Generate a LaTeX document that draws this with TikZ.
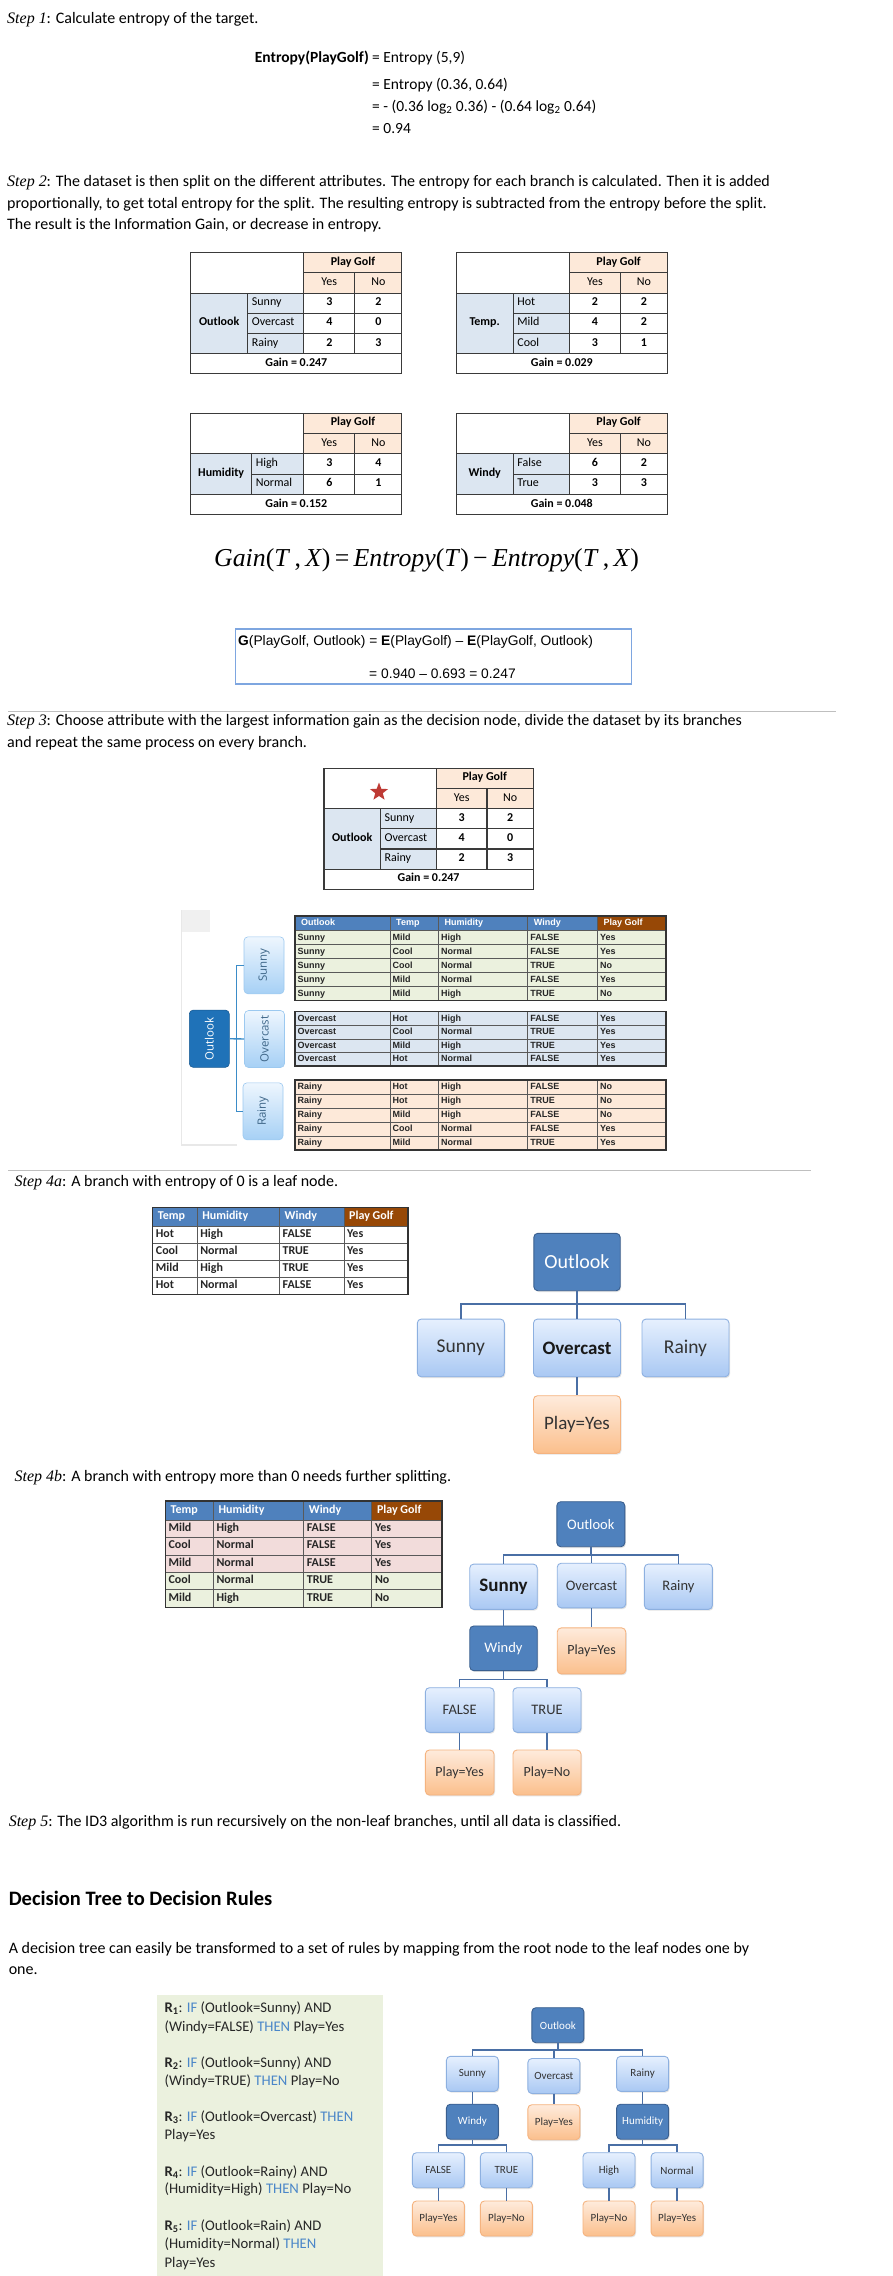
\documentclass[tikz,border=0pt]{standalone}
\usepackage{fontspec}
\setmainfont{Carlito}
\newfontfamily\serifit{Liberation Serif}
\newfontfamily\arialf{Liberation Sans}
\newfontfamily\opensans{Open Sans}
\usetikzlibrary{shapes.geometric,shadows}
\newcommand\fsz[1]{\fontsize{#1}{#1}\selectfont}
\definecolor{hdrpeach}{HTML}{FDE9D9}
\definecolor{lblblue}{HTML}{DCE6F1}
\definecolor{tbl}{HTML}{3A3A3A}
\definecolor{hdrblue}{HTML}{4F81BD}
\definecolor{hdrbrown}{HTML}{974806}
\definecolor{rowgreen}{HTML}{EBF1DE}
\definecolor{rowblue}{HTML}{DCE6F1}
\definecolor{rowpeach}{HTML}{FDE9D9}
\definecolor{rowpink}{HTML}{F2DCDB}
\definecolor{kwblue}{HTML}{4A86C8}
\definecolor{boxblue}{HTML}{7EA6E0}
\definecolor{nodedark}{HTML}{4F81BD}
\definecolor{nodedarkb}{HTML}{3A5F8F}
\definecolor{lightA}{HTML}{E6F0FE}
\definecolor{lightB}{HTML}{A9C8F3}
\definecolor{lightborder}{HTML}{8DB0E0}
\definecolor{orA}{HTML}{FEEBDC}
\definecolor{orB}{HTML}{FBBF8C}
\definecolor{orborder}{HTML}{F5B37F}
\definecolor{saDark}{HTML}{1F72B8}
\definecolor{saLightA}{HTML}{EEF6FE}
\definecolor{saLightB}{HTML}{A6D0F5}
\definecolor{saBorder}{HTML}{9CC9F0}
\definecolor{saLine}{HTML}{3B8CC8}
\definecolor{saText}{HTML}{3E6688}
\definecolor{rulegray}{HTML}{BFBFBF}
\definecolor{rulesbg}{HTML}{EBF1DE}
\definecolor{connblue}{HTML}{4A6FA5}
\definecolor{starred}{HTML}{BE3A34}

\tikzset{
  txt/.style={anchor=base west, inner sep=0pt, font=\fsz{16}},
  tline/.style={draw=tbl, line width=1.1pt},
  gtreg/.style={inner sep=0pt, font=\fsz{12}, text height=.68em, text depth=.18em},
  gtbold/.style={inner sep=0pt, font=\fsz{12}\bfseries, text height=.68em, text depth=.18em},
  dtxt/.style={anchor=west, inner sep=0pt, font=\arialf\bfseries\fsz{9}, text=black!85, text height=.7em, text depth=.2em},
  dhdr/.style={anchor=west, inner sep=0pt, font=\arialf\bfseries\fsz{9}, text=white, text height=.7em, text depth=.2em},
  dline/.style={draw=black!65, line width=0.8pt},
  dout/.style={draw=black!80, line width=1.5pt},
  stxt/.style={anchor=west, inner sep=0pt, font=\fsz{12}\bfseries, text=black!85, text height=.68em, text depth=.18em},
  shdr/.style={anchor=west, inner sep=0pt, font=\fsz{12}\bfseries, text=white, text height=.68em, text depth=.18em},
  tn/.style={rectangle, rounded corners=4pt, line width=0.9pt, inner sep=0pt, align=center,
    drop shadow={opacity=0.22, shadow xshift=1pt, shadow yshift=-1.3pt}},
  tdark/.style={tn, fill=nodedark, draw=nodedarkb, text=white},
  tlight/.style={tn, top color=lightA, bottom color=lightB, draw=lightborder, text=black!80},
  tleaf/.style={tn, top color=orA, bottom color=orB, draw=orborder, text=black!80},
  tconn/.style={draw=connblue, line width=1.5pt},
  sanode/.style={rectangle, rounded corners=4pt, inner sep=0pt, minimum width=40pt, minimum height=57pt},
  salight/.style={sanode, top color=saLightA, bottom color=saLightB, draw=saBorder, line width=0.6pt, text=saText},
  saconn/.style={draw=saLine, line width=1.4pt},
}

% Step-2 style gain table
\newcommand\GainTab[4]{%
  \pgfmathsetmacro\yA{\Ya+\Rh}%
  \pgfmathsetmacro\yB{\Ya+2*\Rh}%
  \pgfmathsetmacro\yC{\Ya+(2+#4)*\Rh}%
  \pgfmathsetmacro\yD{\Ya+(3+#4)*\Rh}%
  \fill[hdrpeach] (\Xc,\Ya) rectangle (\Xe,\yB);
  \fill[lblblue] (\Xa,\yB) rectangle (\Xc,\yC);
  \node[gtbold] at ({(\Xc+\Xe)/2},{(\Ya+\yA)/2}) {Play Golf};
  \node[gtreg] at ({(\Xc+\Xd)/2},{(\yA+\yB)/2}) {Yes};
  \node[gtreg] at ({(\Xd+\Xe)/2},{(\yA+\yB)/2}) {No};
  \node[gtbold] at ({(\Xa+\Xb)/2},{(\yB+\yC)/2}) {#1};
  \foreach \lab/\vy/\vn [count=\i] in {#2} {%
    \pgfmathsetmacro\ry{\yB+(\i-0.5)*\Rh}%
    \pgfmathsetmacro\rl{\yB+\i*\Rh}%
    \node[gtreg,anchor=west] at ({\Xb+4},\ry) {\lab};
    \node[gtbold] at ({(\Xc+\Xd)/2},\ry) {\vy};
    \node[gtbold] at ({(\Xd+\Xe)/2},\ry) {\vn};
    \draw[tline] (\Xb,\rl) -- (\Xe,\rl);
  }
  \node[gtbold] at ({(\Xa+\Xe)/2},{(\yC+\yD)/2}) {#3};
  \draw[tline] (\Xa,\Ya) rectangle (\Xe,\yD);
  \draw[tline] (\Xc,\yA) -- (\Xe,\yA);
  \draw[tline] (\Xa,\yB) -- (\Xe,\yB);
  \draw[tline] (\Xa,\yC) -- (\Xe,\yC);
  \draw[tline] (\Xc,\Ya) -- (\Xc,\yC);
  \draw[tline] (\Xd,\yA) -- (\Xd,\yC);
  \draw[tline] (\Xb,\yB) -- (\Xb,\yC);
}
% dataset row (5 columns)
\newcommand\DRow[8]{%
  \fill[#3] (\Ca,#1) rectangle (\Cf,#2);
  \node[dtxt] at ({\Ca+2.5},{(#1+#2)/2}) {#4};
  \node[dtxt] at ({\Cb+2.5},{(#1+#2)/2}) {#5};
  \node[dtxt] at ({\Cc+2.5},{(#1+#2)/2}) {#6};
  \node[dtxt] at ({\Cd+2.5},{(#1+#2)/2}) {#7};
  \node[dtxt] at ({\Ce+2.5},{(#1+#2)/2}) {#8};
}
% small table row (4 columns)
\newcommand\SRow[7]{%
  \fill[#3] (\Sa,#1) rectangle (\Se,#2);
  \node[stxt] at ({\Sa+3},{(#1+#2)/2}) {#4};
  \node[stxt] at ({\Sb+3},{(#1+#2)/2}) {#5};
  \node[stxt] at ({\Sc+3},{(#1+#2)/2}) {#6};
  \node[stxt] at ({\Sd+3},{(#1+#2)/2}) {#7};
}
\newcommand\SHead[2]{% #1 top, #2 bottom
  \fill[hdrblue] (\Sa,#1) rectangle (\Sd,#2);
  \fill[hdrbrown] (\Sd,#1) rectangle (\Se,#2);
  \node[shdr] at ({\Sa+5},{(#1+#2)/2}) {Temp};
  \node[shdr] at ({\Sb+5},{(#1+#2)/2}) {Humidity};
  \node[shdr] at ({\Sc+5},{(#1+#2)/2}) {Windy};
  \node[shdr] at ({\Sd+5},{(#1+#2)/2}) {Play Golf};
}

\begin{document}
\begin{tikzpicture}[x=1pt,y=-1pt]
\useasboundingbox (0,0) rectangle (892,2276);
\fill[white] (0,0) rectangle (892,2276);

% ---------------- Step 1
\node[txt] (s1) at (7,23) {{\serifit\itshape Step 1}: Calculate entropy of the target.};
\node[txt, font=\fsz{15.5}\bfseries, anchor=base east] (e0) at (369,62) {Entropy(PlayGolf)};
\node[txt, font=\fsz{15.5}] (e1) at (372,62) {= Entropy (5,9)};
\node[txt, font=\fsz{15.5}] (e2) at (372,89.6) {= Entropy (0.36, 0.64)};
\node[txt, font=\fsz{15.5}] (e3) at (372,111.3) {= - (0.36 log\textsubscript{2} 0.36) - (0.64 log\textsubscript{2} 0.64)};
\node[txt, font=\fsz{15.5}] (e4) at (372,133) {= 0.94};

% ---------------- Step 2
\node[txt] (s2a) at (7,186.5) {{\serifit\itshape Step 2}: The dataset is then split on the different attributes. The entropy for each branch is calculated. Then it is added};
\node[txt] (s2b) at (7,208) {proportionally, to get total entropy for the split. The resulting entropy is subtracted from the entropy before the split.};
\node[txt] (s2c) at (7,229.7) {The result is the Information Gain, or decrease in entropy.};

\def\Xa{190.7}\def\Xb{247.7}\def\Xc{303.9}\def\Xd{354.7}\def\Xe{401.9}\def\Ya{252.7}\def\Rh{20.2}
\GainTab{Outlook}{Sunny/3/2,Overcast/4/0,Rainy/2/3}{Gain = 0.247}{3}
\def\Xa{456.2}\def\Xb{513.2}\def\Xc{569.8}\def\Xd{620.2}\def\Xe{667.4}
\GainTab{Temp.}{Hot/2/2,Mild/4/2,Cool/3/1}{Gain = 0.029}{3}
\def\Xa{190.7}\def\Xb{251.6}\def\Xc{303.9}\def\Xd{354.7}\def\Xe{401.9}\def\Ya{413.3}\def\Rh{20.3}
\GainTab{Humidity}{High/3/4,Normal/6/1}{Gain = 0.152}{2}
\def\Xa{456.2}\def\Xb{513.2}\def\Xc{569.8}\def\Xd{620.2}\def\Xe{667.4}
\GainTab{Windy}{False/6/2,True/3/3}{Gain = 0.048}{2}

% formula
\node[txt, font=\serifit\fsz{25.8}] (gainf) at (214,566) {\textit{Gain}(\textit{T}\,,\,\textit{X})\,=\,\textit{Entropy}(\textit{T})\,−\,\textit{Entropy}(\textit{T}\,,\,\textit{X})};

% G box
\node[draw=boxblue, line width=1.2pt, minimum width=396pt, minimum height=55pt, inner sep=0pt, anchor=north west] (gbox) at (234.5,628.3) {};
\node[txt, font=\arialf\fsz{13.8}] (g1) at (238,645) {\textbf{G}(PlayGolf, Outlook) = \textbf{E}(PlayGolf) – \textbf{E}(PlayGolf, Outlook)};
\node[txt, font=\arialf\fsz{13.8}] (g2) at (369,678) {= 0.940 – 0.693 = 0.247};

% ---------------- Step 3
\draw[rulegray, line width=1pt] (8,711.7) -- (836,711.7);
\node[txt] (s3a) at (7,725.5) {{\serifit\itshape Step 3}: Choose attribute with the largest information gain as the decision node, divide the dataset by its branches};
\node[txt] (s3b) at (7,747) {and repeat the same process on every branch.};

\def\Xa{324}\def\Xb{380.4}\def\Xc{436.3}\def\Xd{487}\def\Xe{533.1}\def\Ya{768.3}\def\Rh{20.17}
\GainTab{Outlook}{Sunny/3/2,Overcast/4/0,Rainy/2/3}{Gain = 0.247}{3}
\node[star, star points=5, star point ratio=2.4, fill=starred, inner sep=0pt, minimum size=19pt] (star) at (379,792) {};

% ---------------- dataset split figure
\fill[black!6] (181.7,910) rectangle (210,932);
\draw[black!9, line width=1.5pt] (181.7,910) -- (181.7,1145) -- (236.7,1145);
\node[sanode, fill=saDark, draw=saDark!80!black, line width=0.6pt, minimum height=57.3pt] (saOut) at (209.3,1038.7) {};
\node[rotate=90, text=white, font=\opensans\fsz{11.5}] (saOutT) at (saOut.center) {Outlook};
\node[salight] (saSun) at (264,965.3) {};
\node[rotate=90, text=saText, font=\opensans\fsz{11.5}] (saSunT) at (saSun.center) {Sunny};
\node[salight] (saOvr) at (264.5,1039) {};
\node[rotate=90, text=saText, font=\opensans\fsz{11.5}] (saOvrT) at (saOvr.center) {Overcast};
\node[salight] (saRai) at (263,1111.3) {};
\node[rotate=90, text=saText, font=\opensans\fsz{11.5}] (saRaiT) at (saRai.center) {Rainy};
\coordinate (saTop) at (236.7,965.3);
\coordinate (saBot) at (236.7,1111.3);
\draw[saconn] (saSun.west) -- (saTop) -- (saBot) -- (saRai.west);
\draw[saconn] (saOut.east) -- (saOvr.west);

\def\Ca{295}\def\Cb{390}\def\Cc{438.3}\def\Cd{527.7}\def\Ce{597.3}\def\Cf{666}
% header
\fill[hdrblue] (\Ca,916) rectangle (\Ce,930.7);
\fill[hdrbrown] (\Ce,916) rectangle (\Cf,930.7);
\node[dhdr] at ({\Ca+6},923.4) {Outlook};
\node[dhdr] at ({\Cb+6},923.4) {Temp};
\node[dhdr] at ({\Cc+6},923.4) {Humidity};
\node[dhdr] at ({\Cd+6},923.4) {Windy};
\node[dhdr] at ({\Ce+6},923.4) {Play Golf};
% sunny
\DRow{930.7}{944.7}{rowgreen}{Sunny}{Mild}{High}{FALSE}{Yes}
\DRow{944.7}{958.7}{rowgreen}{Sunny}{Cool}{Normal}{FALSE}{Yes}
\DRow{958.7}{972.7}{rowgreen}{Sunny}{Cool}{Normal}{TRUE}{No}
\DRow{972.7}{986.7}{rowgreen}{Sunny}{Mild}{Normal}{FALSE}{Yes}
\DRow{986.7}{1000.7}{rowgreen}{Sunny}{Mild}{High}{TRUE}{No}
\foreach \yy in {930.7,944.7,958.7,972.7,986.7} \draw[dline] (\Ca,\yy) -- (\Cf,\yy);
\foreach \xx in {\Cb,\Cc,\Cd,\Ce} \draw[dline] (\xx,916) -- (\xx,1000.7);
\draw[dout] (\Ca,916) rectangle (\Cf,1000.7);
% overcast
\DRow{1011.7}{1025.3}{rowblue}{Overcast}{Hot}{High}{FALSE}{Yes}
\DRow{1025.3}{1038.9}{rowblue}{Overcast}{Cool}{Normal}{TRUE}{Yes}
\DRow{1038.9}{1052.4}{rowblue}{Overcast}{Mild}{High}{TRUE}{Yes}
\DRow{1052.4}{1066}{rowblue}{Overcast}{Hot}{Normal}{FALSE}{Yes}
\foreach \yy in {1025.3,1038.9,1052.4} \draw[dline] (\Ca,\yy) -- (\Cf,\yy);
\foreach \xx in {\Cb,\Cc,\Cd,\Ce} \draw[dline] (\xx,1011.7) -- (\xx,1066);
\draw[dout] (\Ca,1011.7) rectangle (\Cf,1066);
% rainy
\DRow{1080}{1094}{rowpeach}{Rainy}{Hot}{High}{FALSE}{No}
\DRow{1094}{1108}{rowpeach}{Rainy}{Hot}{High}{TRUE}{No}
\DRow{1108}{1122}{rowpeach}{Rainy}{Mild}{High}{FALSE}{No}
\DRow{1122}{1136}{rowpeach}{Rainy}{Cool}{Normal}{FALSE}{Yes}
\DRow{1136}{1150}{rowpeach}{Rainy}{Mild}{Normal}{TRUE}{Yes}
\foreach \yy in {1094,1108,1122,1136} \draw[dline] (\Ca,\yy) -- (\Cf,\yy);
\foreach \xx in {\Cb,\Cc,\Cd,\Ce} \draw[dline] (\xx,1080) -- (\xx,1150);
\draw[dout] (\Ca,1080) rectangle (\Cf,1150);

% ---------------- Step 4a
\draw[rulegray, line width=1pt] (8,1170) -- (811,1170);
\node[txt] (s4a) at (14.4,1186.5) {{\serifit\itshape Step 4a}: A branch with entropy of 0 is a leaf node.};
\def\Sa{152.7}\def\Sb{197.1}\def\Sc{279.5}\def\Sd{344}\def\Se{408}
\SHead{1207.7}{1226.7}
\SRow{1226.7}{1243.6}{white}{Hot}{High}{FALSE}{Yes}
\SRow{1243.6}{1260.5}{white}{Cool}{Normal}{TRUE}{Yes}
\SRow{1260.5}{1277.4}{white}{Mild}{High}{TRUE}{Yes}
\SRow{1277.4}{1294.3}{white}{Hot}{Normal}{FALSE}{Yes}
\foreach \yy in {1226.7,1243.6,1260.5,1277.4} \draw[dline] (\Sa,\yy) -- (\Se,\yy);
\foreach \xx in {\Sb,\Sc,\Sd} \draw[dline] (\xx,1207.7) -- (\xx,1294.3);
\draw[dout] (\Sa,1207.7) rectangle (\Se,1294.3);

\node[tdark, minimum width=86.4pt, minimum height=57.4pt, font=\fsz{20}] (aOut) at (577,1262) {Outlook};
\node[tlight, minimum width=87pt, minimum height=57.7pt, font=\fsz{19.5}] (aSun) at (460.8,1347.9) {Sunny};
\node[tlight, minimum width=87pt, minimum height=57.7pt, font=\fsz{19}\bfseries, text=black!90] (aOvr) at (577,1347.9) {Overcast};
\node[tlight, minimum width=87pt, minimum height=57.7pt, font=\fsz{19.5}] (aRai) at (685.5,1347.9) {Rainy};
\node[tleaf, minimum width=87pt, minimum height=57.6pt, font=\fsz{19}] (aYes) at (577,1424.5) {Play=Yes};
\coordinate (aBar) at (577,1304);
\draw[tconn] (aOut.south) -- (aOvr.north);
\draw[tconn] (aSun.north) |- (aBar) -| (aRai.north);
\draw[tconn] (aOvr.south) -- (aYes.north);

% ---------------- Step 4b
\node[txt] (s4b) at (14.4,1481.5) {{\serifit\itshape Step 4b}: A branch with entropy more than 0 needs further splitting.};
\def\Sa{165.4}\def\Sb{213.3}\def\Sc{303.7}\def\Sd{371.8}\def\Se{442}
\SHead{1501}{1520}
\SRow{1520}{1537.5}{rowpink}{Mild}{High}{FALSE}{Yes}
\SRow{1537.5}{1554.9}{rowpink}{Cool}{Normal}{FALSE}{Yes}
\SRow{1554.9}{1572.4}{rowpink}{Mild}{Normal}{FALSE}{Yes}
\SRow{1572.4}{1589.8}{rowgreen}{Cool}{Normal}{TRUE}{No}
\SRow{1589.8}{1607.3}{rowgreen}{Mild}{High}{TRUE}{No}
\foreach \yy in {1520,1537.5,1554.9,1572.4,1589.8} \draw[dline] (\Sa,\yy) -- (\Se,\yy);
\foreach \xx in {\Sb,\Sc,\Sd} \draw[dline] (\xx,1501) -- (\xx,1607.3);
\draw[dout] (\Sa,1501) rectangle (\Se,1607.3);

\node[tdark, minimum width=68pt, minimum height=45pt, font=\fsz{14.5}] (bOut) at (590.8,1524.2) {Outlook};
\node[tlight, minimum width=67.5pt, minimum height=45.3pt, font=\fsz{19}\bfseries, text=black!90] (bSun) at (503.5,1586.7) {Sunny};
\node[tlight, minimum width=68.5pt, minimum height=44.6pt, font=\fsz{14.5}] (bOvr) at (591.5,1585.5) {Overcast};
\node[tlight, minimum width=68pt, minimum height=45.3pt, font=\fsz{14.5}] (bRai) at (678.4,1586.7) {Rainy};
\node[tdark, minimum width=67.5pt, minimum height=44.7pt, font=\fsz{14.5}] (bWin) at (503.5,1648.3) {Windy};
\node[tleaf, minimum width=68.5pt, minimum height=46pt, font=\fsz{14}] (bYes) at (591.5,1650.9) {Play=Yes};
\node[tlight, minimum width=68.6pt, minimum height=44.6pt, font=\fsz{14.5}] (bFls) at (459.7,1710) {FALSE};
\node[tlight, minimum width=68pt, minimum height=44.6pt, font=\fsz{14.5}] (bTru) at (547,1710) {TRUE};
\node[tleaf, minimum width=68.6pt, minimum height=45pt, font=\fsz{14}] (bLy) at (459.7,1772.5) {Play=Yes};
\node[tleaf, minimum width=68pt, minimum height=45pt, font=\fsz{14}] (bLn) at (547,1772.5) {Play=No};
\coordinate (bBar) at (590.8,1555);
\coordinate (bWbar) at (503.5,1679.3);
\draw[tconn] (bOut.south) -- (bOut.south |- bBar);
\draw[tconn] (bSun.north) |- (bBar) -| (bRai.north);
\draw[tconn] (bOvr.north) -- (bOvr.north |- bBar);
\draw[tconn] (bSun.south) -- (bWin.north);
\draw[tconn] (bOvr.south) -- (bYes.north);
\draw[tconn] (bWin.south) -- (bWbar);
\draw[tconn] (bFls.north) |- (bWbar) -| (bTru.north);
\draw[tconn] (bFls.south) -- (bLy.north);
\draw[tconn] (bTru.south) -- (bLn.north);

% ---------------- Step 5 and rules
\node[txt] (s5) at (8.6,1826.5) {{\serifit\itshape Step 5}: The ID3 algorithm is run recursively on the non-leaf branches, until all data is classified.};
\node[txt, font=\fsz{20.5}\bfseries] (h1) at (8.6,1905.5) {Decision Tree to Decision Rules};
\node[txt] (p1) at (8.6,1953) {A decision tree can easily be transformed to a set of rules by mapping from the root node to the leaf nodes one by};
\node[txt] (p2) at (8.6,1974.7) {one.};

\fill[rulesbg] (157.2,1995) rectangle (382.5,2276);
\tikzset{rl/.style={txt, font=\fsz{14.7}, text=black!85}}
\newcommand\kw[1]{\textcolor{kwblue}{#1}}
\node[rl] (r1a) at (164.4,2012.8) {\textbf{R\textsubscript{1}}: \kw{IF} (Outlook=Sunny) AND};
\node[rl] (r1b) at (164.4,2031.2) {(Windy=FALSE) \kw{THEN} Play=Yes};
\node[rl] (r2a) at (164.4,2067.2) {\textbf{R\textsubscript{2}}: \kw{IF} (Outlook=Sunny) AND};
\node[rl] (r2b) at (164.4,2085.2) {(Windy=TRUE) \kw{THEN} Play=No};
\node[rl] (r3a) at (164.4,2121.2) {\textbf{R\textsubscript{3}}: \kw{IF} (Outlook=Overcast) \kw{THEN}};
\node[rl] (r3b) at (164.4,2139.5) {Play=Yes};
\node[rl] (r4a) at (164.4,2176.2) {\textbf{R\textsubscript{4}}: \kw{IF} (Outlook=Rainy) AND};
\node[rl] (r4b) at (164.4,2193.8) {(Humidity=High) \kw{THEN} Play=No};
\node[rl] (r5a) at (164.4,2230.2) {\textbf{R\textsubscript{5}}: \kw{IF} (Outlook=Rain) AND};
\node[rl] (r5b) at (164.4,2248.8) {(Humidity=Normal) \kw{THEN}};
\node[rl] (r5c) at (164.4,2267.2) {Play=Yes};

% bottom tree
\tikzset{cn/.style={minimum width=52pt, minimum height=35pt, font=\fsz{11}}, cconn/.style={draw=connblue, line width=1.3pt}}
\node[tdark, cn] (cOut) at (557.9,2025.2) {Outlook};
\node[tlight, cn] (cSun) at (472.4,2073.8) {Sunny};
\node[tlight, cn] (cOvr) at (553.9,2076) {Overcast};
\node[tlight, cn] (cRai) at (642.6,2073.8) {Rainy};
\node[tdark, cn] (cWin) at (472.4,2121.7) {Windy};
\node[tleaf, cn] (cYes) at (553.9,2122.2) {Play=Yes};
\node[tdark, cn] (cHum) at (642.6,2121.7) {Humidity};
\node[tlight, cn] (cFls) at (438.4,2170.2) {FALSE};
\node[tlight, cn] (cTru) at (506.4,2170.2) {TRUE};
\node[tlight, cn] (cHi) at (609,2170.2) {High};
\node[tlight, cn] (cNor) at (677.1,2170.2) {Normal};
\node[tleaf, cn] (cL1) at (438.4,2218.5) {Play=Yes};
\node[tleaf, cn] (cL2) at (506.4,2218.5) {Play=No};
\node[tleaf, cn] (cL3) at (609,2218.5) {Play=No};
\node[tleaf, cn] (cL4) at (677.1,2218.5) {Play=Yes};
\coordinate (cBar) at (557.9,2050);
\coordinate (cWbar) at (472.4,2145);
\coordinate (cHbar) at (642.6,2145);
\draw[cconn] (cOut.south) -- (cBar);
\draw[cconn] (cSun.north) |- (cBar) -| (cRai.north);
\draw[cconn] (cOvr.north) -- (cOvr.north |- cBar);
\draw[cconn] (cSun.south) -- (cWin.north);
\draw[cconn] (cOvr.south) -- (cYes.north);
\draw[cconn] (cRai.south) -- (cHum.north);
\draw[cconn] (cWin.south) -- (cWbar);
\draw[cconn] (cFls.north) |- (cWbar) -| (cTru.north);
\draw[cconn] (cHum.south) -- (cHbar);
\draw[cconn] (cHi.north) |- (cHbar) -| (cNor.north);
\draw[cconn] (cFls.south) -- (cL1.north);
\draw[cconn] (cTru.south) -- (cL2.north);
\draw[cconn] (cHi.south) -- (cL3.north);
\draw[cconn] (cNor.south) -- (cL4.north);
\end{tikzpicture}
\end{document}
